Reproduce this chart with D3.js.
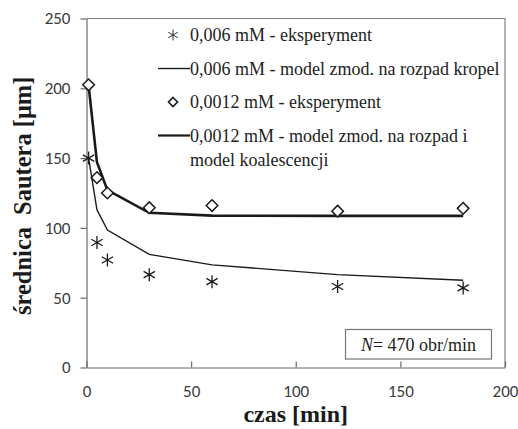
<!DOCTYPE html>
<html>
<head>
<meta charset="utf-8">
<script src="https://cdn.jsdelivr.net/npm/d3@7"></script>
<style>
  body { margin: 0; background: #fff; }
  svg { display: block; }
  .serif { font-family: "Liberation Serif", "Times New Roman", serif; }
</style>
</head>
<body>
<svg id="chart" width="518" height="429"></svg>
<script>
// czas [min]
const times = [1, 5, 10, 30, 60, 120, 180];
// 0,006 mM
const exp006 = [150, 89.5, 77, 66.5, 61.5, 58, 57];
const model006 = [150, 113, 98.5, 81, 73.5, 66.5, 62.5];
// 0,0012 mM
const exp0012 = [202.5, 136, 125, 114.5, 116, 112, 114];
const model0012 = [202, 147, 127, 110.8, 108.8, 108.6, 108.6];

const xTicks = [0, 50, 100, 150, 200];
const yTicks = [0, 50, 100, 150, 200, 250];

const legendItems = [
  { type: "star", text: ["0,006 mM - eksperyment"] },
  { type: "thin", text: ["0,006 mM - model zmod. na rozpad kropel"] },
  { type: "diamond", text: ["0,0012 mM - eksperyment"] },
  { type: "thick", text: ["0,0012 mM - model zmod. na rozpad i", "model koalescencji"] }
];

const svg = d3.select("#chart");
const ink = "#1a1a1a";

const x = d3.scaleLinear().domain([0, 200]).range([86.5, 505]);
const y = d3.scaleLinear().domain([0, 250]).range([367.5, 18.5]);

// frame: top and right edges
svg.append("path")
  .attr("d", `M${x(0)},${y(250)}H${x(200)}V${y(0)}`)
  .attr("fill", "none")
  .attr("stroke", "#808080")
  .attr("stroke-width", 1.2);

const xAxis = svg.append("g")
  .attr("transform", `translate(0,${y(0)})`)
  .call(d3.axisBottom(x).tickValues(xTicks).tickSize(6).tickSizeOuter(0));
const yAxis = svg.append("g")
  .attr("transform", `translate(${x(0)},0)`)
  .call(d3.axisLeft(y).tickValues(yTicks).tickSize(6).tickSizeOuter(0));

[xAxis, yAxis].forEach(g => {
  g.attr("font-family", "Carlito, 'Open Sans', sans-serif").attr("font-size", 17);
  g.select(".domain").attr("stroke", "#6a6a6a").attr("stroke-width", 1.2);
  g.selectAll(".tick line").attr("stroke", "#6a6a6a").attr("stroke-width", 1.2);
  g.selectAll(".tick text").attr("fill", "#3a3a3a");
});
xAxis.selectAll(".tick line").attr("y1", -6).attr("y2", 0);
xAxis.selectAll(".tick text").attr("y", 17);
yAxis.selectAll(".tick text").attr("x", -16);

// axis titles
svg.append("text")
  .attr("class", "serif")
  .attr("x", x(100))
  .attr("y", 422)
  .attr("text-anchor", "middle")
  .attr("font-weight", "bold")
  .attr("font-size", 24)
  .attr("fill", ink)
  .text("czas [min]");

const yTitle = svg.append("text")
  .attr("class", "serif")
  .attr("transform", `translate(31,${y(123)}) rotate(-90)`)
  .attr("text-anchor", "middle")
  .attr("font-weight", "bold")
  .attr("font-size", 24.5)
  .attr("fill", ink);
yTitle.append("tspan").text("średnica");
yTitle.append("tspan").attr("dx", 12).text("Sautera [μm]");

// model curves
const line = d3.line().x(d => x(d[0])).y(d => y(d[1]));

svg.append("path")
  .datum(times.map((t, i) => [t, model006[i]]))
  .attr("d", line)
  .attr("fill", "none")
  .attr("stroke", ink)
  .attr("stroke-width", 1.4);

svg.append("path")
  .datum(times.map((t, i) => [t, model0012[i]]))
  .attr("d", line)
  .attr("fill", "none")
  .attr("stroke", ink)
  .attr("stroke-width", 2.6);

// markers
const starPath = r => {
  const a = r * 0.87;
  return `M${-a},${-r / 2}L${a},${r / 2}M${-a},${r / 2}L${a},${-r / 2}M0,${-r}V${r}`;
};
const diamondPath = r => `M0,${-r}L${r},0L0,${r}L${-r},0Z`;

svg.append("g").selectAll("path")
  .data(times.map((t, i) => [t, exp006[i]]))
  .join("path")
  .attr("transform", d => `translate(${x(d[0])},${y(d[1])})`)
  .attr("d", starPath(6.5))
  .attr("fill", "none")
  .attr("stroke", ink)
  .attr("stroke-width", 1.3);

svg.append("g").selectAll("path")
  .data(times.map((t, i) => [t, exp0012[i]]))
  .join("path")
  .attr("transform", d => `translate(${x(d[0])},${y(d[1])})`)
  .attr("d", diamondPath(5.8))
  .attr("fill", "#fff")
  .attr("stroke", ink)
  .attr("stroke-width", 1.5);

// legend
const legend = svg.append("g");
const rowY = [35, 68.5, 102, 135.5];
legendItems.forEach((item, i) => {
  const g = legend.append("g").attr("transform", `translate(0,${rowY[i]})`);
  if (item.type === "star") {
    g.append("path").attr("transform", "translate(173,0)")
      .attr("d", starPath(5.5)).attr("fill", "none").attr("stroke", "#333").attr("stroke-width", 1);
  } else if (item.type === "diamond") {
    g.append("path").attr("transform", "translate(173,0)")
      .attr("d", diamondPath(4.5)).attr("fill", "#fff").attr("stroke", ink).attr("stroke-width", 1.6);
  } else {
    g.append("line").attr("x1", 158).attr("x2", 190).attr("y1", 0).attr("y2", 0)
      .attr("stroke", ink).attr("stroke-width", item.type === "thick" ? 2.2 : 1.4);
  }
  item.text.forEach((t, j) => {
    g.append("text")
      .attr("class", "serif")
      .attr("x", 190)
      .attr("y", j * 24)
      .attr("dy", "0.35em")
      .attr("font-size", 18)
      .attr("fill", "#222")
      .text(t);
  });
});

// stirring speed note
const note = svg.append("g");
note.append("rect")
  .attr("x", 345.5).attr("y", 329.5)
  .attr("width", 146).attr("height", 29.5)
  .attr("fill", "#fff")
  .attr("stroke", "#777")
  .attr("stroke-width", 1.2);
const noteText = note.append("text")
  .attr("class", "serif")
  .attr("x", 418.5)
  .attr("y", 344.5)
  .attr("dy", "0.35em")
  .attr("text-anchor", "middle")
  .attr("font-size", 18)
  .attr("fill", "#222");
noteText.append("tspan").attr("font-style", "italic").text("N");
noteText.append("tspan").text("= 470 obr/min");
</script>
</body>
</html>
